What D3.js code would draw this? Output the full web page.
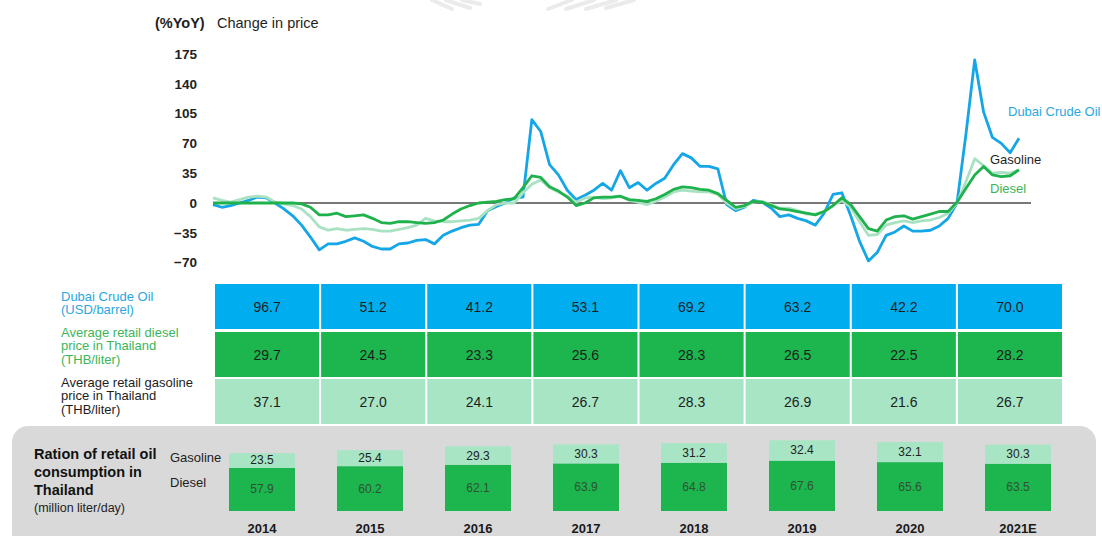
<!DOCTYPE html>
<html>
<head>
<meta charset="utf-8">
<script src="https://cdn.jsdelivr.net/npm/d3@7"></script>
<style>
  html, body { margin: 0; padding: 0; background: #fff; }
  svg { display: block; font-family: "Liberation Sans", Arial, sans-serif; }
</style>
</head>
<body>
<svg id="chart" width="1102" height="536"></svg>
<script>
// ---- Data ----------------------------------------------------------------
// Monthly year-on-year change in price (%), Jan 2014 onward
const crudeYoY = [-2,-5,-3,0,3,7,6,0,-7,-15,
  -26,-40,-55,-48,-48,-45,-41,-45,-51,-54,
  -54,-48,-47,-44,-43,-48,-38,-33,-29,-26,
  -25,-9,-4,0,6,7,98,84,45,33,
  15,4,9,15,23,15,38,18,24,15,
  23,29,45,58,53,43,43,40,-2,-9,
  -5,3,1,-6,-16,-14,-18,-21,-26,-12,
  10,12,-15,-45,-68,-58,-38,-34,-27,-33,
  -33,-32,-27,-18,0,80,168,107,77,70,
  59,76];
const dieselYoY = [0,0,0,0,0,0,0,0,0,0,
  -1,-5,-14,-14,-12,-16,-15,-14,-18,-23,
  -24,-22,-22,-23,-24,-23,-20,-13,-7,-3,
  0,1,2,4,5,18,32,30,19,14,
  7,-3,0,6,7,7,8,4,3,2,
  5,10,16,19,18,16,15,11,3,-5,
  -3,2,1,-3,-7,-8,-10,-12,-14,-10,
  -3,6,-2,-16,-30,-33,-20,-16,-15,-19,
  -16,-13,-10,-10,1,17,33,43,33,31,
  32,39];
const gasolineYoY = [6,3,1,4,7,8,7,1,-1,-3,
  -7,-16,-28,-32,-30,-32,-31,-30,-31,-33,
  -33,-31,-29,-26,-18,-21,-22,-22,-21,-20,
  -18,-9,-2,0,0,12,22,27,18,13,
  8,1,6,7,5,6,8,3,1,-2,
  2,7,13,15,14,13,13,10,0,-7,
  -4,1,2,-2,-6,-6,-9,-13,-13,-10,
  -3,3,-5,-22,-38,-37,-26,-23,-21,-23,
  -21,-20,-17,-12,0,25,52,44,35,36,
  35,39];

const yTicks = [-70, -35, 0, 35, 70, 105, 140, 175];

const years = ["2014", "2015", "2016", "2017", "2018", "2019", "2020", "2021E"];
const crudePrice = [96.7, 51.2, 41.2, 53.1, 69.2, 63.2, 42.2, 70.0];
const dieselPrice = [29.7, 24.5, 23.3, 25.6, 28.3, 26.5, 22.5, 28.2];
const gasolinePrice = [37.1, 27.0, 24.1, 26.7, 28.3, 26.9, 21.6, 26.7];

const dieselUse = [57.9, 60.2, 62.1, 63.9, 64.8, 67.6, 65.6, 63.5];
const gasolineUse = [23.5, 25.4, 29.3, 30.3, 31.2, 32.4, 32.1, 30.3];

// ---- Styling ---------------------------------------------------------------
const C = {
  blue: "#14a6e6",
  blueFill: "#00aeef",
  green: "#1fb14b",
  greenFill: "#1db54d",
  light: "#a9e2c2",
  lightFill: "#a8e5c5",
  blueText: "#2aa7e1",
  greenText: "#3cb55a",
  ink: "#1e1e1e",
  panel: "#d9d9d9"
};

const svg = d3.select("#chart");

// faint decorative swoosh at the top edge
const deco = svg.append("g").attr("opacity", 0.45);
[[432, 0, 452, 9], [446, 0, 470, 8], [462, 0, 480, 4], [548, 9, 572, 0],
 [566, 9, 594, 0], [586, 9, 616, 0], [606, 8, 634, 0]].forEach(s => {
  deco.append("line").attr("x1", s[0]).attr("y1", s[1]).attr("x2", s[2]).attr("y2", s[3])
    .attr("stroke", "#d4d4d4").attr("stroke-width", 4).attr("stroke-linecap", "round");
});

// ---- Line chart ----------------------------------------------------------------
const x = d3.scaleLinear().domain([0, crudeYoY.length - 1]).range([213, 1019]);
const y = d3.scaleLinear().domain([-70, 175]).range([262.6, 54]);

svg.append("text").attr("x", 155).attr("y", 28)
  .attr("font-size", 14.5).attr("font-weight", "bold").attr("fill", C.ink).text("(%YoY)");
svg.append("text").attr("x", 217).attr("y", 28)
  .attr("font-size", 14.5).attr("fill", C.ink).text("Change in price");

const yAxis = d3.axisLeft(y).tickValues(yTicks).tickSize(0).tickPadding(0);
const ag = svg.append("g").attr("transform", "translate(197,0)").call(yAxis);
ag.select(".domain").remove();
ag.selectAll("text").attr("font-size", 13.5).attr("font-weight", "bold")
  .attr("fill", "#222").attr("font-family", "Liberation Sans, Arial, sans-serif");

svg.append("line").attr("x1", 213).attr("x2", 1031)
  .attr("y1", y(0)).attr("y2", y(0)).attr("stroke", "#787878").attr("stroke-width", 2);

const line = d3.line().x((d, i) => x(i)).y(d => y(d));
[[crudeYoY, C.blue], [gasolineYoY, C.light], [dieselYoY, C.green]].forEach(([s, col]) => {
  svg.append("path").datum(s).attr("d", line).attr("fill", "none")
    .attr("stroke", col).attr("stroke-width", 2.8).attr("stroke-linejoin", "round");
});

svg.append("text").attr("x", 1008).attr("y", 116).attr("font-size", 13)
  .attr("fill", C.blueText).text("Dubai Crude Oil");
svg.append("text").attr("x", 990).attr("y", 164).attr("font-size", 13)
  .attr("fill", C.ink).text("Gasoline");
svg.append("text").attr("x", 990).attr("y", 193).attr("font-size", 13)
  .attr("fill", C.greenText).text("Diesel");

// ---- Price table -----------------------------------------------------------
const col = d3.scaleBand().domain(years).range([214, 1063]);
const rows = [
  { vals: crudePrice, fill: C.blueFill, top: 284, h: 45,
    label: ["Dubai Crude Oil", "(USD/barrel)"], color: C.blueText, ly: 301 },
  { vals: dieselPrice, fill: C.greenFill, top: 332, h: 45,
    label: ["Average retail diesel", "price in Thailand", "(THB/liter)"], color: C.greenText, ly: 337 },
  { vals: gasolinePrice, fill: C.lightFill, top: 379, h: 45,
    label: ["Average retail gasoline", "price in Thailand", "(THB/liter)"], color: C.ink, ly: 387 }
];
rows.forEach(r => {
  const g = svg.append("g");
  g.selectAll("rect").data(r.vals).join("rect")
    .attr("x", (d, i) => col(years[i]) + 1).attr("y", r.top)
    .attr("width", col.bandwidth() - 2).attr("height", r.h).attr("fill", r.fill);
  g.selectAll("text.v").data(r.vals).join("text").attr("class", "v")
    .attr("x", (d, i) => col(years[i]) + col.bandwidth() / 2)
    .attr("y", r.top + r.h / 2 + 5).attr("text-anchor", "middle")
    .attr("font-size", 14).attr("fill", "#1d1d1d").text(d => d.toFixed(1));
  const t = svg.append("text").attr("font-size", 13).attr("fill", r.color);
  r.label.forEach((s, k) => t.append("tspan").attr("x", 61).attr("y", r.ly + k * 13.3).text(s));
});

// ---- Consumption panel ------------------------------------------------------
svg.append("rect").attr("x", 12).attr("y", 426).attr("width", 1084).attr("height", 130)
  .attr("rx", 16).attr("fill", C.panel);

const pt = svg.append("text").attr("font-size", 14.5).attr("font-weight", "bold").attr("fill", "#111");
["Ration of retail oil", "consumption in", "Thailand"].forEach((s, k) =>
  pt.append("tspan").attr("x", 34).attr("y", 459 + k * 18).text(s));
svg.append("text").attr("x", 34).attr("y", 512).attr("font-size", 12.5).attr("fill", "#222")
  .text("(million liter/day)");
svg.append("text").attr("x", 170).attr("y", 462).attr("font-size", 13).attr("fill", "#222").text("Gasoline");
svg.append("text").attr("x", 170).attr("y", 487).attr("font-size", 13).attr("fill", "#222").text("Diesel");

const bx = d3.scaleBand().domain(years).range([208, 1072]);
const boxW = 66;
const base = 511;
const hDiesel = d3.scaleLinear().domain([0, 100]).range([0, 74.5]);
const hGas = d3.scaleLinear().domain([0, 35]).range([0, 22]);

const bars = svg.append("g");
years.forEach((yr, i) => {
  const cx = bx(yr) + bx.bandwidth() / 2;
  const dh = hDiesel(dieselUse[i]);
  const gh = hGas(gasolineUse[i]);
  bars.append("rect").attr("x", cx - boxW / 2).attr("y", base - dh)
    .attr("width", boxW).attr("height", dh).attr("fill", C.greenFill);
  bars.append("rect").attr("x", cx - boxW / 2).attr("y", base - dh - gh)
    .attr("width", boxW).attr("height", gh).attr("fill", C.lightFill);
  bars.append("text").attr("x", cx).attr("y", base - dh / 2 + 4).attr("text-anchor", "middle")
    .attr("font-size", 12).attr("fill", "#2e5236").text(dieselUse[i].toFixed(1));
  bars.append("text").attr("x", cx).attr("y", base - dh - gh / 2 + 4).attr("text-anchor", "middle")
    .attr("font-size", 12).attr("fill", "#222").text(gasolineUse[i].toFixed(1));
  bars.append("text").attr("x", cx).attr("y", 533).attr("text-anchor", "middle")
    .attr("font-size", 13).attr("font-weight", "bold").attr("fill", "#1a1a1a").text(yr);
});
</script>
</body>
</html>
